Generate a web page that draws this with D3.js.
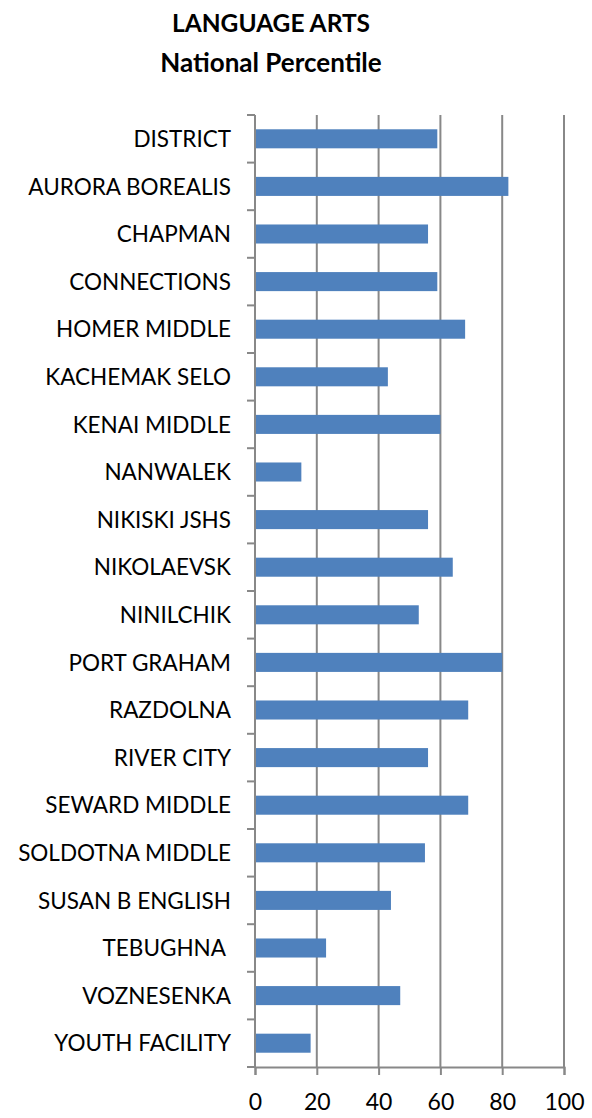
<!DOCTYPE html>
<html>
<head>
<meta charset="utf-8">
<script src="https://cdn.jsdelivr.net/npm/d3@7"></script>
<style>
body { margin:0; background:#fff; }
text { font-family: Lato, "Open Sans", sans-serif; fill:#000; }
</style>
</head>
<body>
<div id="chart"></div>
<script>
var schools = ["DISTRICT","AURORA BOREALIS","CHAPMAN","CONNECTIONS","HOMER MIDDLE","KACHEMAK SELO",
  "KENAI MIDDLE","NANWALEK","NIKISKI JSHS","NIKOLAEVSK","NINILCHIK","PORT GRAHAM","RAZDOLNA",
  "RIVER CITY","SEWARD MIDDLE","SOLDOTNA MIDDLE","SUSAN B ENGLISH","TEBUGHNA ","VOZNESENKA","YOUTH FACILITY"];
var percentile = [59,82,56,59,68,43,60,15,56,64,53,80,69,56,69,55,44,23,47,18];
var xticks = [0,20,40,60,80,100];
var titleLines = ["LANGUAGE ARTS","National Percentile"];

var width = 592, height = 1118;
var margin = {top:115, right:28, bottom:51, left:255};

var svg = d3.select('#chart').append('svg')
  .attr("width", width)
  .attr("height", height);

var xscale = d3.scaleLinear()
  .domain([0,100])
  .range([margin.left, width - margin.right]);

var yscale = d3.scaleBand()
  .domain(schools)
  .range([margin.top, height - margin.bottom])
  .paddingInner(0.6)
  .paddingOuter(0.3);

var gridColor = "#888888";

// gridlines
svg.append("g").selectAll("line")
  .data(xticks.slice(1))
  .enter().append("line")
  .attr("x1", function(d){ return xscale(d); })
  .attr("x2", function(d){ return xscale(d); })
  .attr("y1", margin.top)
  .attr("y2", height - margin.bottom)
  .style("stroke", gridColor)
  .style("stroke-width", "2px");

// bars
svg.append("g").selectAll("rect")
  .data(schools)
  .enter().append("rect")
  .attr("x", xscale(0))
  .attr("y", function(d){ return yscale(d); })
  .attr("width", function(d,i){ return xscale(percentile[i]) - xscale(0); })
  .attr("height", yscale.bandwidth())
  .style("fill", "#4f81bd");

// x axis
var xaxis = d3.axisBottom(xscale)
  .tickValues(xticks)
  .tickSize(8)
  .tickPadding(19);

var gx = svg.append("g")
  .attr("transform", "translate(0," + (height - margin.bottom) + ")")
  .call(xaxis);
gx.select(".domain").style("stroke", gridColor).style("stroke-width", "2px");
gx.selectAll(".tick line").style("stroke", gridColor).style("stroke-width", "2px");
gx.selectAll(".tick text").style("font-size", "23px").style("font-family", "Lato, sans-serif").style("fill", "#000");

// y axis line + ticks at category boundaries
var step = yscale.step();
var bounds = d3.range(schools.length + 1).map(function(i){ return margin.top + i*step; });
svg.append("line")
  .attr("x1", xscale(0)).attr("x2", xscale(0))
  .attr("y1", margin.top).attr("y2", height - margin.bottom)
  .style("stroke", gridColor).style("stroke-width", "2px");
svg.append("g").selectAll("line")
  .data(bounds)
  .enter().append("line")
  .attr("x1", xscale(0) - 8).attr("x2", xscale(0))
  .attr("y1", function(d){ return d; }).attr("y2", function(d){ return d; })
  .style("stroke", gridColor).style("stroke-width", "2px");

// category labels
svg.append("g").selectAll("text")
  .data(schools)
  .enter().append("text")
  .attr("x", 231)
  .attr("y", function(d){ return yscale(d) + yscale.bandwidth()/2; })
  .attr("dy", "0.36em")
  .attr("text-anchor", "end")
  .style("font-size", "22.5px")
  .style("white-space", "pre")
  .text(function(d){ return d; });

// title
svg.append("g").selectAll("text")
  .data(titleLines)
  .enter().append("text")
  .attr("x", 271)
  .attr("y", function(d,i){ return 32 + i*40; })
  .attr("text-anchor", "middle")
  .style("font-size", function(d,i){ return i == 0 ? "24.5px" : "26px"; })
  .style("font-weight", "bold")
  .text(function(d){ return d; });
</script>
</body>
</html>
